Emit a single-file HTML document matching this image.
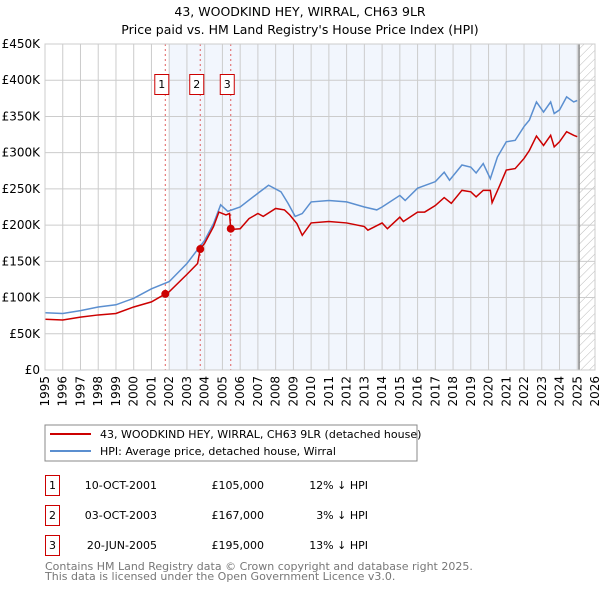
<!DOCTYPE html>
<html><head><meta charset="utf-8"><style>
body{margin:0;background:#fff;width:600px;height:590px;overflow:hidden}
svg{font-family:"DejaVu Sans","Liberation Sans",sans-serif}
</style></head><body>
<svg id="c" width="600" height="590" xmlns="http://www.w3.org/2000/svg">
<text x="300" y="16" text-anchor="middle" font-size="12.5">43, WOODKIND HEY, WIRRAL, CH63 9LR</text>
<text x="300" y="34" text-anchor="middle" font-size="12.5">Price paid vs. HM Land Registry's House Price Index (HPI)</text>
<defs><pattern id="hatch" width="6" height="6" patternUnits="userSpaceOnUse" patternTransform="rotate(45)"><line x1="0" y1="0" x2="0" y2="6" stroke="#bbb" stroke-width="1"/></pattern></defs>
<g id="plot"></g>
<rect x="45" y="425" width="372" height="36" fill="#fff" stroke="#888"/>
<line x1="50" y1="434" x2="91" y2="434" stroke="#cc0000" stroke-width="2"/>
<text x="100" y="438" font-size="11">43, WOODKIND HEY, WIRRAL, CH63 9LR (detached house)</text>
<line x1="50" y1="451" x2="91" y2="451" stroke="#5b8fd0" stroke-width="2"/>
<text x="100" y="455" font-size="11">HPI: Average price, detached house, Wirral</text>
<g font-size="11">
<rect x="45.5" y="475.5" width="14" height="20" fill="none" stroke="#cc0000"/><text x="52.5" y="489" text-anchor="middle">1</text>
<text x="157" y="489" text-anchor="end">10-OCT-2001</text>
<text x="264" y="489" text-anchor="end">£105,000</text>
<text x="368" y="489" text-anchor="end">12% ↓ HPI</text>
<rect x="45.5" y="505.5" width="14" height="20" fill="none" stroke="#cc0000"/><text x="52.5" y="519" text-anchor="middle">2</text>
<text x="157" y="519" text-anchor="end">03-OCT-2003</text>
<text x="264" y="519" text-anchor="end">£167,000</text>
<text x="368" y="519" text-anchor="end">3% ↓ HPI</text>
<rect x="45.5" y="535.5" width="14" height="20" fill="none" stroke="#cc0000"/><text x="52.5" y="549" text-anchor="middle">3</text>
<text x="157" y="549" text-anchor="end">20-JUN-2005</text>
<text x="264" y="549" text-anchor="end">£195,000</text>
<text x="368" y="549" text-anchor="end">13% ↓ HPI</text>
</g>
<text x="45" y="570" font-size="11" fill="#777">Contains HM Land Registry data © Crown copyright and database right 2025.</text>
<text x="45" y="580" font-size="11" fill="#777">This data is licensed under the Open Government Licence v3.0.</text>
</svg>
<script>
const yTicks=[0,50,100,150,200,250,300,350,400,450];
const yLabels=["£0","£50K","£100K","£150K","£200K","£250K","£300K","£350K","£400K","£450K"];
const xYears=[1995,1996,1997,1998,1999,2000,2001,2002,2003,2004,2005,2006,2007,2008,2009,2010,2011,2012,2013,2014,2015,2016,2017,2018,2019,2020,2021,2022,2023,2024,2025,2026];
const hpiYears=[1995,1996,1997,1998,1999,2000,2001,2002,2003,2004,2004.5,2004.9,2005.3,2006,2007,2007.6,2008.3,2008.7,2009.1,2009.5,2010,2011,2012,2013,2013.7,2014,2015,2015.3,2016,2017,2017.5,2017.8,2018.5,2019,2019.3,2019.7,2020.1,2020.5,2021,2021.5,2022,2022.3,2022.7,2023.1,2023.5,2023.7,2024,2024.4,2024.8,2025];
const hpiValues=[79,78,82,87,90,99,112,122,147,179,202,228,219,225,244,255,246,230,212,216,232,234,232,225,221,225,241,234,251,260,273,262,283,280,272,285,264,294,315,317,336,345,370,356,370,354,359,377,370,372];
const priceYears=[1995,1996,1997,1998,1999,2000,2001,2001.78,2002,2003,2003.6,2003.75,2004,2004.5,2004.8,2005.2,2005.4,2005.47,2006,2006.5,2007,2007.3,2008,2008.5,2008.8,2009.2,2009.5,2010,2011,2012,2013,2013.2,2014,2014.3,2015,2015.2,2016,2016.4,2017,2017.5,2017.9,2018.5,2019,2019.3,2019.7,2020.1,2020.2,2020.6,2021,2021.5,2022,2022.3,2022.7,2023.1,2023.5,2023.7,2024,2024.4,2024.8,2025];
const priceValues=[70,69,73,76,78,87,94,105,108,132,147,167,175,198,218,214,216,194,195,209,216,212,223,221,214,202,186,203,205,203,198,193,203,195,211,205,218,218,227,238,230,248,246,239,248,248,231,253,276,278,292,303,323,310,324,308,315,329,324,322];
const saleYears=[2001.78,2003.75,2005.47];
const saleValues=[105,167,195];
const saleLabels=["1","2","3"];
const X0=45,X1=595,Y0=370,Y1=44;
const sx=y=>X0+(y-1995)*(X1-X0)/31;
const sy=v=>Y0-v*(Y0-Y1)/450;
const NS="http://www.w3.org/2000/svg";
const g=document.getElementById('plot');
function mk(t,a){const e=document.createElementNS(NS,t);for(const k in a)e.setAttribute(k,a[k]);g.appendChild(e);return e;}
let e;
e=mk('rect',{x:sx(2002),y:Y1,width:sx(2025.1)-sx(2002),height:Y0-Y1,fill:'#f2f6fd'});


e=mk('rect',{x:sx(2025.1),y:Y1,width:X1-sx(2025.1),height:Y0-Y1,fill:'url(#hatch)'});


yTicks.forEach((v,i)=>{
 e=mk('line',{x1:X0,x2:X1,y1:sy(v),y2:sy(v),stroke:'#ccc'});
 
 
 e=mk('text',{x:X0-5,y:sy(v)+4,'text-anchor':'end','font-size':12});
 e.textContent=yLabels[i];
 
 
});
xYears.forEach(y=>{
 e=mk('line',{x1:sx(y),x2:sx(y),y1:Y1,y2:Y0,stroke:'#ccc'});
 
 
 e=mk('text',{x:sx(y)+4,y:Y0+6,'text-anchor':'end','font-size':12,transform:`rotate(-90 ${sx(y)+4} ${Y0+6})`});
 e.textContent=y;
 
 
});
e=mk('line',{x1:sx(2025.1),x2:sx(2025.1),y1:Y1,y2:Y0,stroke:'#888','stroke-width':1.5});


saleYears.forEach((y,i)=>{
 e=mk('line',{x1:sx(y),x2:sx(y),y1:Y1,y2:Y0,stroke:'#e06060','stroke-dasharray':'2,3'});
 
 
 e=mk('rect',{x:sx(y)-10.5,y:74.5,width:14,height:20,fill:'#fff',stroke:'#cc0000'});
 
 
 e=mk('text',{x:sx(y)-3.5,y:88,'text-anchor':'middle','font-size':11});
 e.textContent=saleLabels[i];
 
 
});
e=mk('polyline',{points:hpiYears.map((y,i)=>sx(y)+','+sy(hpiValues[i])).join(' '),fill:'none',stroke:'#5b8fd0','stroke-width':1.5});


e=mk('polyline',{points:priceYears.map((y,i)=>sx(y)+','+sy(priceValues[i])).join(' '),fill:'none',stroke:'#cc0000','stroke-width':1.5});


saleYears.forEach((y,i)=>{
 e=mk('circle',{cx:sx(y),cy:sy(saleValues[i]),r:4,fill:'#cc0000'});
 
 
});
e=mk('rect',{x:X0,y:Y1,width:X1-X0,height:Y0-Y1,fill:'none',stroke:'#ccc'});


</script>
</body></html>
